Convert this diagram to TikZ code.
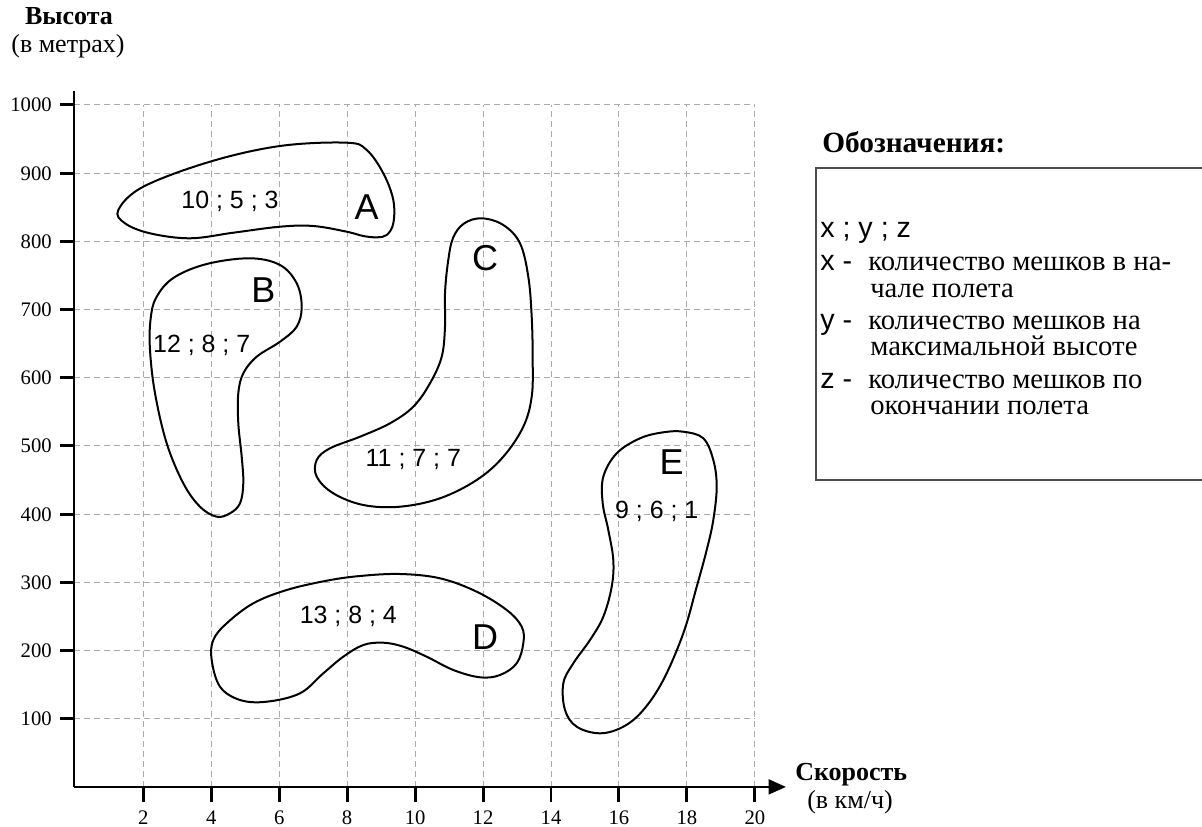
\documentclass[tikz,border=0pt]{standalone}
\usepackage{fontspec}
\setmainfont{Liberation Serif}
\setsansfont{Liberation Sans}
\usetikzlibrary{arrows.meta}
\begin{document}
\begin{tikzpicture}[x=0.75pt,y=-0.75pt,
  gridline/.style={draw=black!33, line width=0.75pt, dash pattern=on 4.5pt off 3pt},
  axisline/.style={line width=2pt, line cap=butt},
  tickmark/.style={line width=2.2pt},
  blob/.style={line width=1.5pt},
  ylab/.style={anchor=base east, inner sep=0pt, font=\fontsize{15.5}{18}\selectfont},
  xlab/.style={anchor=base, inner sep=0pt, font=\fontsize{15.5}{18}\selectfont},
  axtitle/.style={inner sep=0pt, font=\fontsize{19.5}{22}\selectfont\bfseries},
  axunit/.style={inner sep=0pt, font=\fontsize{19.5}{22}\selectfont},
  triple/.style={inner sep=0pt, font=\sffamily\fontsize{18.7}{22}\selectfont},
  letter/.style={inner sep=0pt, font=\sffamily\fontsize{27}{30}\selectfont},
  legtitle/.style={anchor=base west, inner sep=0pt, font=\fontsize{22}{26}\selectfont\bfseries},
  legsans/.style={anchor=base west, inner sep=0pt, font=\sffamily\fontsize{21.5}{25}\selectfont},
  legtext/.style={anchor=base west, inner sep=0pt, font=\fontsize{21.5}{25}\selectfont}]
\useasboundingbox (0,0) rectangle (1202,827);
% grid
\foreach \i in {1,...,10} {
  \draw[gridline] ({75.35+67.95*\i},786.9) -- ({75.35+67.95*\i},104.9);
  \draw[gridline] (74,{786.9-68.2*\i}) -- (754.9,{786.9-68.2*\i});
}
% axes
\coordinate (O) at (74,786.9);
\coordinate (ytop) at (74,91);
\coordinate (xend) at (786,786.9);
\draw[axisline] (ytop) -- (O);
\draw[axisline, -{Triangle[length=13pt, width=11pt]}] (O) -- (xend);
% y ticks
\foreach \v/\t in {1/100,2/200,3/300,4/400,5/500,6/600,7/700,8/800,9/900,10/1000} {
  \coordinate (yt\v) at (74,{786.9-68.2*\v});
  \coordinate (ytl\v) at (60,{786.9-68.2*\v});
  \draw[tickmark] (ytl\v) -- (yt\v);
  \node[ylab] (ylabel\v) at (52,{786.9-68.2*\v+7}) {\t};
}
% x ticks
\foreach \i/\t in {1/2,2/4,3/6,4/8,5/10,6/12,7/14,8/16,9/18,10/20} {
  \coordinate (xt\i) at ({75.35+67.95*\i},786.9);
  \coordinate (xtl\i) at ({75.35+67.95*\i},802);
  \draw[tickmark] (xt\i) -- (xtl\i);
  \node[xlab] (xlabel\i) at ({75.35+67.95*\i},824) {\t};
}
% axis titles
\node[axtitle, anchor=base] (ytitle) at (69,25) {Высота};
\node[axunit, anchor=base] (yunit) at (68,53) {(в метрах)};
\node[axtitle, anchor=base west] (xtitle) at (795,780) {Скорость};
\node[axunit, anchor=base] (xunit) at (850,808) {(в км/ч)};
% blob A
\draw[blob] plot[smooth cycle, tension=0.6] coordinates {
 (118.3,210) (143.3,186.7) (210,161.7) (280,146) (346.7,142.7) (366.7,150)
 (383.3,173.3) (393.3,200) (393.3,223.3) (386.7,235) (376.7,237.3) (363.3,236)
 (346.7,231.7) (313.3,226) (280,226.7) (233.3,232.7) (190,238.3) (150,233.3) (125,223.3)};
\node[triple] (tA) at (230,201.7) {10 ; 5 ; 3};
\node[letter] (lA) at (366.7,206.7) {A};
% blob B
\draw[blob] plot[smooth cycle, tension=0.6] coordinates {
 (156,298) (173.3,278) (206.7,264) (250,258.3) (280,265) (296.7,283.3)
 (301.7,306.7) (296.7,326.7) (280,341.7) (256.7,356.7) (243.3,373.3) (238.3,393.3)
 (238.3,423.3) (241.7,456.7) (243.3,483.3) (240,503.3) (230,513.3) (216.7,516.7)
 (200,506.7) (183.3,483.3) (166.7,443.3) (155,393.3) (150,350) (150.5,320)};
\node[triple] (tB) at (201.7,345) {12 ; 8 ; 7};
\node[letter] (lB) at (263.3,290) {B};
% blob C
\draw[blob] plot[smooth cycle, tension=0.6] coordinates {
 (464,223.5) (481.7,218.3) (503.3,225) (520,243.3) (528.3,276.7) (531.7,316.7)
 (532.7,360) (531.7,396.7) (523.3,426.7) (503.3,456.7) (476.7,480) (440,498.3)
 (400,506.7) (363.3,505) (333.3,493.3) (316.7,476.7) (316.7,460) (330,448.3)
 (360,436.7) (390,423.3) (413.3,406.7) (430,383.3) (441.7,356.7) (445,326.7)
 (445,293.3) (448,262) (453,238)};
\node[triple] (tC) at (413.3,460) {11 ; 7 ; 7};
\node[letter] (lC) at (485,258.3) {C};
% blob D
\draw[blob] plot[smooth cycle, tension=0.6] coordinates {
 (400,574) (440,578.3) (476.7,591.7) (506.7,610) (521.7,626.7) (523.3,643.3)
 (516.7,663.3) (500,675) (480,677.3) (453.3,670) (426.7,656.7) (403.3,646.7)
 (383.3,642.7) (363.3,645) (343.3,656.7) (323.3,673.3) (300,693.3) (266.7,701.7)
 (240,700) (220,686.7) (211.7,660) (213.3,640) (226.7,623.3) (253.3,603.3)
 (286.7,590) (326.7,580.7) (360,576)};
\node[triple] (tD) at (348.3,616.7) {13 ; 8 ; 4};
\node[letter] (lD) at (485,636.7) {D};
% blob E
\draw[blob] plot[smooth cycle, tension=0.6] coordinates {
 (683.3,431.7) (703.3,438.3) (713.3,460) (716.7,486.7) (713.3,520) (706.7,550)
 (696.7,586.7) (683.3,633.3) (663.3,680) (643.3,710) (623.3,726.7) (600,733.3)
 (576.7,726.7) (565,710) (563.3,683.3) (573.3,663.3) (590,640) (603.3,616.7)
 (611.7,586.7) (613.3,560) (608.3,530) (602.7,503.3) (603.3,476.7) (616.7,453.3)
 (640,438.3) (663.3,432.3)};
\node[triple] (tE) at (656.7,511.7) {9 ; 6 ; 1};
\node[letter] (lE) at (671.7,461.7) {E};
% legend
\node[legtitle] (legT) at (822,153) {Обозначения:};
\coordinate (bx1) at (1202,168);
\coordinate (bx2) at (816,168);
\coordinate (bx3) at (816,480);
\coordinate (bx4) at (1202,480);
\draw[line width=1pt, black!70] (bx1) -- (bx2) -- (bx3) -- (bx4);
\node[legsans] (l0) at (820,238) {x ; y ; z};
\node[legsans] (lx) at (820,271) {x -};
\node[legtext] (lx1) at (868,271) {количество мешков в на-};
\node[legtext] (lx2) at (870,297) {чале полета};
\node[legsans] (ly) at (820,329) {y -};
\node[legtext] (ly1) at (868,329) {количество мешков на};
\node[legtext] (ly2) at (870,355) {максимальной высоте};
\node[legsans] (lz) at (820,388) {z -};
\node[legtext] (lz1) at (868,388) {количество мешков по};
\node[legtext] (lz2) at (870,414) {окончании полета};
\end{tikzpicture}
\end{document}
